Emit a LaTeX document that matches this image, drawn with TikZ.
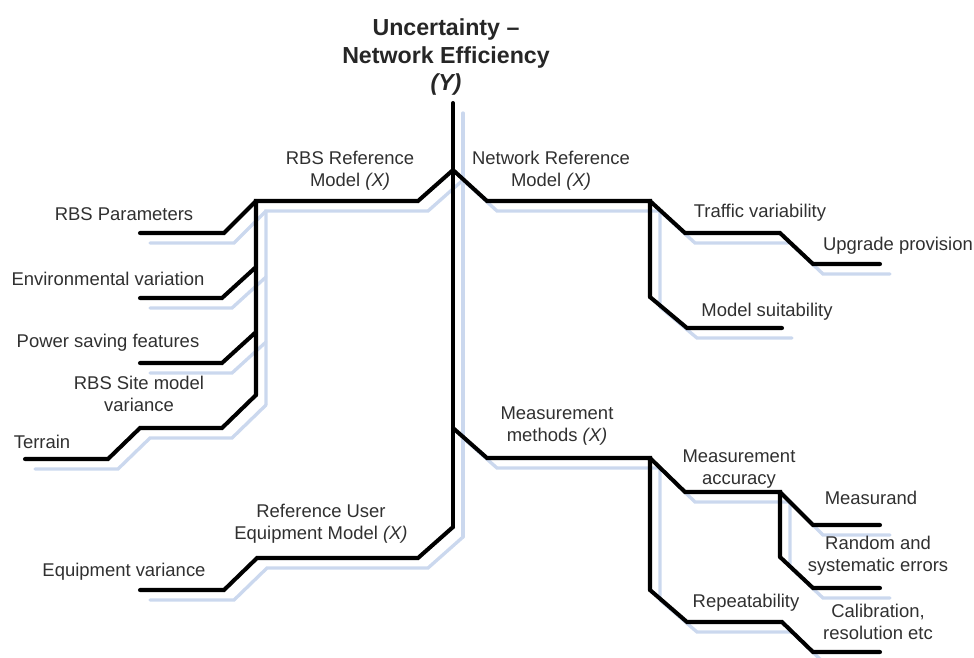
\documentclass[tikz,border=0pt]{standalone}
\usepackage{fontspec}
\setmainfont{Liberation Sans}
\usetikzlibrary{positioning}
\definecolor{shadowblue}{HTML}{CBD8EE}
\definecolor{labelgray}{HTML}{303030}

\begin{document}
\begin{tikzpicture}[
  x=0.02cm, y=-0.02cm,
  bone/.style={draw=black, line width=2.3pt, line cap=round, line join=miter},
  shadowbone/.style={draw=shadowblue, line width=1.9pt, line cap=round, line join=miter},
  label/.style={text=labelgray, align=center, inner sep=0pt, font=\fontsize{10.5}{12.6}\selectfont},
  title/.style={text=black!85, align=center, inner sep=0pt, font=\bfseries\fontsize{13.2}{15.8}\selectfont}
]
\useasboundingbox (0,0) rectangle (974,657);

% junctions of the fishbone
\coordinate (ytop) at (453,103);
\coordinate (hub) at (453,170);
\coordinate (mj) at (453,428);
\coordinate (ybot) at (453,527);
\coordinate (lB) at (256,201);
\coordinate (e0) at (256,267);
\coordinate (p0) at (256,332);
\coordinate (lC) at (256,395);
\coordinate (rA) at (650,201);
\coordinate (rB) at (650,297);
\coordinate (mA) at (650,458);
\coordinate (mB) at (650,590);
\coordinate (aA) at (780,492);
\coordinate (aB) at (780,557);

% free ends
\coordinate (rbsEnd) at (140,233);
\coordinate (envEnd) at (140,298);
\coordinate (powEnd) at (140,363);
\coordinate (terEnd) at (25,459);
\coordinate (upgEnd) at (880,264);
\coordinate (suitEnd) at (782,328);
\coordinate (msdEnd) at (880,525);
\coordinate (rndEnd) at (880,588);
\coordinate (calEnd) at (880,652);
\coordinate (eqEnd) at (140,590);

% shadow first, then the black lines
\foreach \sty/\off in {shadowbone/0.2cm, bone/0cm} {
  \begin{scope}[transform canvas={shift={(\off,-\off)}}]
    % spine
    \draw[\sty] (ytop) -- (ybot);
    % RBS reference model
    \draw[\sty] (hub) -- ++(-35,31) -- (lB) -- (lC);
    \draw[\sty] (lB) -- ++(-32,32) -- (rbsEnd);
    \draw[\sty] (e0) -- ++(-34,31) -- (envEnd);
    \draw[\sty] (p0) -- ++(-34,31) -- (powEnd);
    \draw[\sty] (lC) -- ++(-34,33) -- ++(-82,0) -- ++(-32,31) -- (terEnd);
    % network reference model
    \draw[\sty] (hub) -- ++(34,31) -- (rA) -- (rB);
    \draw[\sty] (rA) -- ++(35,32) -- ++(95,0) -- ++(33,31) -- (upgEnd);
    \draw[\sty] (rB) -- ++(37,31) -- (suitEnd);
    % measurement methods
    \draw[\sty] (mj) -- ++(34,30) -- (mA) -- (mB);
    \draw[\sty] (mA) -- ++(35,34) -- (aA) -- (aB);
    \draw[\sty] (aA) -- ++(33,33) -- (msdEnd);
    \draw[\sty] (aB) -- ++(33,31) -- (rndEnd);
    \draw[\sty] (mB) -- ++(37,32) -- ++(95,0) -- ++(31,30) -- (calEnd);
    % reference user equipment model
    \draw[\sty] (ybot) -- ++(-35,31) -- ++(-161,0) -- ++(-33,32) -- (eqEnd);
  \end{scope}
}

% title
\node[title] (effect) at (446,57) {Uncertainty --\\Network Efficiency\\\textit{(Y)}};

% labels
\node[label] (rbsRef) at (350,171) {RBS Reference\\Model \textit{(X)}};
\node[label] (netRef) at (551,171) {Network Reference\\Model \textit{(X)}};
\node[label] (rbsPar) at (124,214) {RBS Parameters};
\node[label] (envVar) at (108,279) {Environmental variation};
\node[label] (powSave) at (108,343) {Power saving features};
\node[label] (siteVar) at (139,394) {RBS Site model\\variance};
\node[label] (terrain) at (42,442) {Terrain};
\node[label] (traffic) at (760,213) {Traffic variability};
\node[label] (upgrade) at (898,246) {Upgrade provision};
\node[label] (suit) at (767,312) {Model suitability};
\node[label] (measMeth) at (557,426) {Measurement\\methods \textit{(X)}};
\node[label] (measAcc) at (739,469) {Measurement\\accuracy};
\node[label] (measurand) at (871,498) {Measurand};
\node[label] (random) at (878,556) {Random and\\systematic errors};
\node[label] (repeat) at (746,603) {Repeatability};
\node[label] (calib) at (878,622) {Calibration,\\resolution etc};
\node[label] (refUser) at (321,524) {Reference User\\Equipment Model \textit{(X)}};
\node[label] (equipVar) at (124,572) {Equipment variance};

\end{tikzpicture}
\end{document}
